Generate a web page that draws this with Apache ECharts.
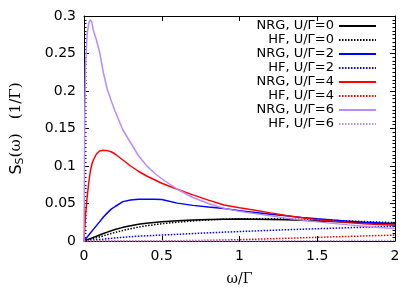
<!DOCTYPE html>
<html><head><meta charset="utf-8">
<script src="https://cdn.jsdelivr.net/npm/echarts@6/dist/echarts.min.js"></script>
<style>html,body{margin:0;padding:0;background:#fff}#c{width:415px;height:291px}</style>
</head><body><div id="c"></div>
<script>
// omega / Gamma sample points
const omega = [0,0.005,0.01,0.02,0.03,0.04,0.05,0.06,0.08,0.1,
  0.125,0.15,0.175,0.2,0.25,0.3,0.35,0.4,0.45,0.5,
  0.6,0.7,0.8,0.9,1.0,1.1,1.2,1.3,1.4,1.5,
  1.6,1.7,1.8,1.9,2.0];

const nrgU0 = [0,0.0004,0.0008,0.0016,0.0024,0.0032,0.004,0.0048,0.0064,0.008,
  0.0099,0.0118,0.0136,0.0153,0.0182,0.0204,0.0222,0.0236,0.0247,0.0256,
  0.027,0.028,0.0287,0.0291,0.0292,0.0291,0.0288,0.0282,0.0275,0.0267,
  0.0259,0.0251,0.0244,0.0237,0.023];
const hfU0 = [0,0.0002,0.0004,0.0009,0.0014,0.0019,0.0025,0.003,0.0042,0.0054,
  0.0069,0.0085,0.01,0.0114,0.0141,0.0164,0.0184,0.0202,0.0217,0.023,
  0.0251,0.0268,0.0281,0.029,0.0295,0.0297,0.0296,0.0293,0.0288,0.0282,
  0.0275,0.0267,0.026,0.0252,0.0245];
const nrgU2 = [0,0.0013,0.0026,0.0052,0.0078,0.0104,0.013,0.0155,0.0205,0.0255,
  0.032,0.0375,0.0425,0.046,0.0525,0.0548,0.0556,0.0558,0.0557,0.0552,
  0.0505,0.0475,0.0452,0.0432,0.0405,0.038,0.0358,0.0335,0.0315,0.0296,
  0.028,0.0265,0.025,0.024,0.023];
const hfU2 = [0,0.0001,0.0002,0.0004,0.0006,0.0008,0.001,0.0012,0.0016,0.002,
  0.0025,0.003,0.0035,0.004,0.0049,0.0057,0.0064,0.0069,0.0074,0.0079,
  0.0089,0.0099,0.0109,0.0118,0.0126,0.0134,0.0142,0.015,0.0157,0.0164,
  0.017,0.0177,0.0183,0.0189,0.0195];
const nrgU4 = [0,0.018,0.034,0.058,0.077,0.092,0.102,0.108,0.116,0.12,
  0.121,0.1205,0.119,0.116,0.108,0.1,0.093,0.087,0.082,0.077,
  0.069,0.0615,0.0545,0.048,0.0442,0.041,0.0375,0.034,0.031,0.0285,
  0.0265,0.0245,0.023,0.022,0.021];
const hfU4 = [0,0,0,0,0,0,0,0,0,0,
  0,0,0,0,0,0,0,0,0.0001,0.0002,
  0.0004,0.0006,0.0009,0.0013,0.0018,0.0024,0.003,0.0036,0.0043,0.0049,
  0.0055,0.0061,0.0067,0.0073,0.0079];
const nrgU6 = [0,0.17,0.235,0.275,0.29,0.295,0.292,0.281,0.268,0.252,
  0.224,0.202,0.187,0.173,0.148,0.131,0.114,0.101,0.091,0.083,
  0.069,0.058,0.05,0.0435,0.0395,0.0365,0.0335,0.0305,0.028,0.0255,
  0.0235,0.0215,0.0198,0.018,0.0165];
const hfU6 = [0,0,0,0,0,0,0,0,0,0,
  0,0,0,0,0,0,0,0,0,0,
  0,0,0,0,0,0.0001,0.0001,0.0002,0.0002,0.0003,
  0.0004,0.0005,0.0006,0.0007,0.0008];

const seriesNames = ['NRG, U/\u0393=0','HF, U/\u0393=0','NRG, U/\u0393=2','HF, U/\u0393=2',
  'NRG, U/\u0393=4','HF, U/\u0393=4','NRG, U/\u0393=6','HF, U/\u0393=6'];
const seriesValues = [nrgU0,hfU0,nrgU2,hfU2,nrgU4,hfU4,nrgU6,hfU6];
const seriesColors = ['#000000','#000000','#0000ff','#0000ff','#ff0000','#ff0000','#b88cff','#b88cff'];

const xTicks = {min:0,max:2,interval:0.5};
const yTicks = {min:0,max:0.3,interval:0.05};

const chart = echarts.init(document.getElementById('c'), null, {renderer:'canvas'});
const font = 'DejaVu Sans';
const axisLine = {show:true, onZero:false, lineStyle:{color:'#000', width:1}};

chart.setOption({
  animation:false,
  backgroundColor:'#fff',
  grid:{left:84,right:20,top:16,bottom:45,containLabel:false},
  legend:{
    orient:'vertical', align:'right', right:38, top:19, padding:0,
    itemWidth:37, itemHeight:2, itemGap:0,
    itemStyle:{opacity:0},
    textStyle:{fontFamily:font,fontSize:13,color:'#000',lineHeight:14},
    data:seriesNames
  },
  xAxis:[{
    type:'value', min:xTicks.min, max:xTicks.max, interval:xTicks.interval, position:'bottom',
    axisLine:axisLine, axisTick:{show:true,inside:true,length:5,lineStyle:{color:'#000'}},
    splitLine:{show:false},
    axisLabel:{fontFamily:font,fontSize:14,color:'#000',margin:8},
    name:'\u03c9/\u0393', nameLocation:'middle', nameGap:31,
    nameTextStyle:{fontFamily:'DejaVu Serif',fontSize:14,color:'#000'}
  },{
    type:'value', min:xTicks.min, max:xTicks.max, interval:xTicks.interval, position:'top',
    axisLine:axisLine, axisTick:{show:true,inside:true,length:5,lineStyle:{color:'#000'}},
    axisLabel:{show:false}, splitLine:{show:false}
  }],
  yAxis:[{
    type:'value', min:yTicks.min, max:yTicks.max, interval:yTicks.interval, position:'left',
    axisLine:axisLine, axisTick:{show:true,inside:true,length:5,lineStyle:{color:'#000'}},
    minorTick:{show:true,splitNumber:10,length:2.5,lineStyle:{color:'#000'}},
    splitLine:{show:false},
    axisLabel:{fontFamily:font,fontSize:14,color:'#000',margin:8},
    name:'{m|S}{s|S}{r|(\u03c9)   (1/\u0393)}', nameLocation:'middle', nameRotate:90, nameGap:58,
    nameTextStyle:{
      rich:{
        m:{fontFamily:font,fontSize:16,color:'#000',lineHeight:19,verticalAlign:'middle'},
        s:{fontFamily:font,fontSize:11,color:'#000',lineHeight:19,verticalAlign:'bottom'},
        r:{fontFamily:'DejaVu Serif',fontSize:15,color:'#000',lineHeight:19,verticalAlign:'middle'}
      }
    }
  },{
    type:'value', min:yTicks.min, max:yTicks.max, interval:yTicks.interval, position:'right',
    axisLine:axisLine, axisTick:{show:true,inside:true,length:5,lineStyle:{color:'#000'}},
    minorTick:{show:true,splitNumber:10,length:2.5,lineStyle:{color:'#000'}},
    axisLabel:{show:false}, splitLine:{show:false}
  }],
  series: seriesNames.map((name,i)=>({
    name:name, type:'line', xAxisIndex:0, yAxisIndex:0,
    symbol:'none', showSymbol:false,
    data: omega.map((x,j)=>[x, seriesValues[i][j]]),
    lineStyle:{color:seriesColors[i], width:1.5, type: name.startsWith('HF') ? [1.5,1.5] : 'solid'},
    itemStyle:{color:seriesColors[i]},
    clip:true
  }))
});
</script></body></html>
